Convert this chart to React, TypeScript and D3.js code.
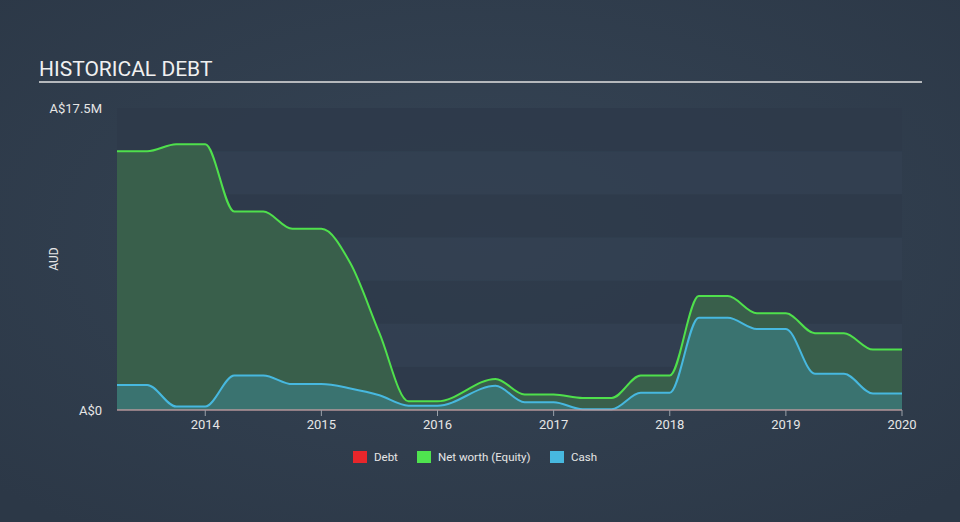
import React from "react";
import * as d3 from "d3";

const years = [2014, 2015, 2016, 2017, 2018, 2019, 2020];
const yTickLabels = ["A$0", "A$17.5M"];

const netWorthDates = [2013.24, 2013.5, 2013.75, 2014.0, 2014.25, 2014.5, 2014.75, 2015.0, 2015.25, 2015.5, 2015.75, 2016.0, 2016.5, 2016.75, 2017.0, 2017.25, 2017.5, 2017.75, 2018.0, 2018.25, 2018.5, 2018.75, 2019.0, 2019.25, 2019.5, 2019.75, 2020.0];
const netWorthValues = [15.0, 15.0, 15.4, 15.4, 11.5, 11.5, 10.5, 10.5, 8.5, 4.45, 0.5, 0.5, 1.8, 0.9, 0.9, 0.7, 0.7, 2.0, 2.0, 6.6, 6.6, 5.6, 5.6, 4.45, 4.45, 3.5, 3.5];

const cashDates = [2013.24, 2013.5, 2013.75, 2014.0, 2014.25, 2014.5, 2014.75, 2015.0, 2015.25, 2015.5, 2015.75, 2016.0, 2016.5, 2016.75, 2017.0, 2017.25, 2017.5, 2017.75, 2018.0, 2018.25, 2018.5, 2018.75, 2019.0, 2019.25, 2019.5, 2019.75, 2020.0];
const cashValues = [1.45, 1.45, 0.2, 0.2, 2.0, 2.0, 1.5, 1.5, 1.25, 0.85, 0.25, 0.25, 1.4, 0.45, 0.45, 0.05, 0.05, 1.0, 1.0, 5.35, 5.35, 4.7, 4.7, 2.1, 2.1, 0.95, 0.95];

const debtDates = [2013.24, 2020.0];
const debtValues = [0, 0];

const legendItems = [
  { label: "Debt", color: "#e8262b" },
  { label: "Net worth (Equity)", color: "#4fe34f" },
  { label: "Cash", color: "#47b8df" },
];

export default function App() {
  const W = 960, H = 522;
  const left = 117, right = 902, top = 108, bottom = 410;
  const x = d3.scaleLinear().domain([2013.24, 2020.0]).range([left, right]);
  const y = d3.scaleLinear().domain([0, 17.5]).range([bottom, top]);
  const curve = d3.curveMonotoneX;

  const mk = (ds: number[], vs: number[]) => ds.map((d, i) => [d, vs[i]] as [number, number]);
  const nw = mk(netWorthDates, netWorthValues);
  const cash = mk(cashDates, cashValues);
  const debt = mk(debtDates, debtValues);

  const area = d3.area<[number, number]>().x(d => x(d[0])).y0(y(0)).y1(d => y(d[1])).curve(curve);
  const line = d3.line<[number, number]>().x(d => x(d[0])).y(d => y(d[1])).curve(curve);

  const bands = d3.range(0, 17.5, 2.5);
  const font = "Roboto, 'Open Sans', sans-serif";

  const legendX = [353, 417, 550];

  return (
    <svg width={W} height={H} style={{ position: "absolute", left: 0, top: 0, display: "block" }}>
      <defs>
        <radialGradient id="bg" cx="50%" cy="45%" r="70%">
          <stop offset="0%" stopColor="#364556" />
          <stop offset="100%" stopColor="#2c3847" />
        </radialGradient>
      </defs>
      <rect x={0} y={0} width={W} height={H} fill="url(#bg)" />
      <text x={39} y={76} fill="#f0f0f0" fontFamily={font} fontSize={21}>HISTORICAL DEBT</text>
      <rect x={39} y={81} width={883} height={2} fill="#b5b8bc" />

      {bands.map((b, i) => (
        <rect key={i} x={left} y={y(b + 2.5)} width={right - left} height={y(b) - y(b + 2.5)}
          fill={i % 2 === 0 ? "#2e3a4a" : "#334051"} opacity={0.85} />
      ))}

      <path d={area(nw) || ""} fill="#395f4b" />
      <path d={area(cash) || ""} fill="#3a7370" />
      <path d={line(nw) || ""} fill="none" stroke="#4fe04c" strokeWidth={2} />
      <path d={line(cash) || ""} fill="none" stroke="#47b8df" strokeWidth={2} />
      <line x1={left} x2={right} y1={bottom} y2={bottom} stroke="#b0b4b8" strokeWidth={1} />
      <path d={line(debt) || ""} fill="none" stroke="#d28a8c" strokeWidth={1} opacity={0.7} />

      {years.map(yr => (
        <g key={yr}>
          <line x1={x(yr)} x2={x(yr)} y1={bottom} y2={bottom + 6} stroke="#9aa0a8" strokeWidth={1} />
          <text x={x(yr)} y={429} fill="#e6e6e6" fontFamily={font} fontSize={13} textAnchor="middle">{yr}</text>
        </g>
      ))}

      <text x={102} y={bottom + 5} fill="#e6e6e6" fontFamily={font} fontSize={13} textAnchor="end">{yTickLabels[0]}</text>
      <text x={102} y={top + 5} fill="#e6e6e6" fontFamily={font} fontSize={13} textAnchor="end">{yTickLabels[1]}</text>
      <text transform={`translate(58,259) rotate(-90)`} fill="#e6e6e6" fontFamily={font} fontSize={12} textAnchor="middle">AUD</text>

      {legendItems.map((it, i) => (
        <g key={it.label}>
          <rect x={legendX[i]} y={451} width={14} height={12} fill={it.color} />
          <text x={legendX[i] + 21} y={461} fill="#e6e6e6" fontFamily={font} fontSize={11.5}>{it.label}</text>
        </g>
      ))}
    </svg>
  );
}
